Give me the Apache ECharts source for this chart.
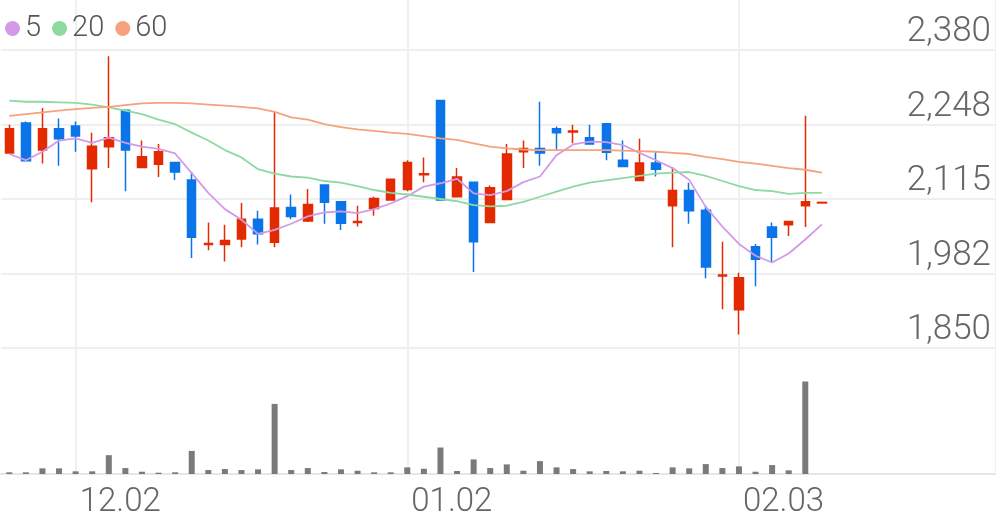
<!DOCTYPE html>
<html><head><meta charset="utf-8">
<script src="https://cdn.jsdelivr.net/npm/echarts@6/dist/echarts.min.js"></script>
<style>html,body{margin:0;padding:0;background:#fff}#c{width:996px;height:519px}</style>
</head><body><div id="c"></div>
<script>
const categories = ['11.26','11.27','11.28','11.29','12.02','12.03','12.04','12.05','12.06','12.09',
  '12.10','12.11','12.12','12.13','12.16','12.17','12.18','12.19','12.20','12.23',
  '12.24','12.26','12.27','12.30','01.02','01.03','01.06','01.07','01.08','01.09',
  '01.10','01.13','01.14','01.15','01.16','01.17','01.20','01.21','01.22','01.23',
  '01.24','01.27','01.28','01.31','02.03','02.04','02.05','02.06','02.07','02.10',
  '02.11','02.12','02.13','02.14','02.17','02.18','02.19','02.20','02.21','02.24'];
const xTickLabels = ['12.02','01.02','02.03'];
const yTickValues = [1850,1982.5,2115,2247.5,2380];
const yTickLabels = ['1,850','1,982','2,115','2,248','2,380'];
const opens  = [2197,2250,2202,2240,2245,2169,2208,2273,2171,2177, 2180,2149,2034,2034,2044,2079,2038,2100,2076,2140, 2110,2073,2098,2113,2132,2158,2290,2119,2145,2073, 2114,2199,2205,2240,2234,2224,2249,2184,2148,2179, 2103,2130,2095,1978,1918,2030,2065,2069,2103,2108];
const closes = [2240,2183,2240,2222,2227,2209,2224,2202,2190,2199, 2163,2047,2036,2041,2079,2053,2099,2084,2105,2109, 2072,2075,2116,2150,2180,2160,2113,2154,2039,2135, 2195,2205,2197,2233,2236,2213,2198,2173,2179,2168, 2130,2094,1994,1980,1975,2008,2047,2075,2110,2109];
const lows   = [2196,2182,2178,2174,2199,2109,2170,2129,2170,2154, 2149,2010,2024,2004,2029,2034,2029,2079,2074,2071, 2060,2066,2085,2112,2129,2145,2112,2118,1985,2072, 2113,2170,2174,2203,2214,2212,2184,2172,2147,2155, 2029,2071,1974,1919,1874,1960,2003,2049,2065,2108];
const highs  = [2247,2253,2277,2258,2253,2233,2369,2274,2219,2213, 2181,2163,2073,2069,2108,2094,2270,2123,2133,2141, 2111,2103,2119,2151,2184,2189,2291,2170,2146,2139, 2213,2219,2288,2244,2247,2247,2250,2219,2222,2198, 2172,2144,2103,2039,1984,2035,2073,2075,2263,2109];
const volumes = [17000,17000,57000,57000,27000,27000,190000,60000,23000,13000, 17000,233000,40000,50000,40000,47000,707000,40000,60000,20000, 47000,33000,17000,17000,67000,53000,267000,30000,147000,60000, 97000,33000,130000,67000,50000,27000,30000,27000,33000,10000, 67000,57000,100000,60000,77000,23000,90000,37000,933000,0];
const ma5  = [2195,2184,2199,2219,2223,2215,2224,2215,2208,2204, 2196,2161,2126,2097,2078,2053,2060,2071,2084,2091, 2093,2090,2097,2107,2120,2137,2143,2151,2125,2122, 2129,2145,2155,2193,2212,2217,2216,2211,2197,2184, 2170,2149,2101,2066,2035,2014,2002,2018,2043,2070];
const ma20 = [2290,2288,2288,2287,2286,2283,2278,2272,2266,2256, 2248,2233,2219,2202,2189,2168,2160,2155,2153,2147, 2144,2138,2131,2126,2123,2119,2115,2111,2104,2102, 2103,2110,2119,2128,2137,2144,2148,2152,2156,2160, 2162,2163,2156,2147,2138,2131,2129,2124,2126,2126];
const ma60 = [2263,2266,2269,2272,2275,2277,2279,2282,2285,2286, 2286,2285,2283,2281,2279,2276,2270,2260,2256,2248, 2243,2239,2236,2233,2231,2227,2223,2220,2214,2208, 2205,2203,2202,2202,2202,2202,2202,2201,2200,2199, 2197,2195,2190,2186,2181,2178,2174,2170,2167,2162];

const UP = '#e32a00', DOWN = '#0a74e8';
const FONT = 'Roboto';
const isTick = (i) => xTickLabels.indexOf(categories[i]) >= 0;
// half-band categories so that split lines (drawn on band boundaries) fall on candle centres
const halfCats = categories.flatMap(c => [c + '-a', c + '-b']);
const isHalfTick = (k) => k % 2 === 1 && isTick((k - 1) / 2);
const chart = echarts.init(document.getElementById('c'));
chart.setOption({
  animation: false,
  legend: {
    left: 0, top: 9, icon: 'circle', itemWidth: 15, itemHeight: 15, itemGap: 11,
    selectedMode: false, data: ['5','20','60'],
    textStyle: { fontSize: 29, color: '#555', fontFamily: FONT, fontWeight: 300 }
  },
  grid: [
    { left: 1, right: 0, top: 50, height: 298 },
    { left: 1, right: 0, top: 360, bottom: 44 },
    { left: 1, right: 0, top: 0, bottom: 44 }
  ],
  xAxis: [
    { type: 'category', gridIndex: 0, data: categories, boundaryGap: true,
      axisLine: { show: false }, axisTick: { show: false }, axisLabel: { show: false }, splitLine: { show: false } },
    { type: 'category', gridIndex: 1, data: categories, boundaryGap: true,
      axisLine: { show: true, lineStyle: { color: '#e6e6e6', width: 2 } }, axisTick: { show: false },
      splitLine: { show: false },
      axisLabel: { interval: isTick, align: 'left', padding: [0,0,0,4], fontSize: 33, color: '#666', margin: 12, fontFamily: FONT, fontWeight: 300 } },
    { type: 'category', gridIndex: 2, data: halfCats, boundaryGap: true,
      axisLine: { show: false }, axisTick: { show: false }, axisLabel: { show: false },
      splitLine: { show: true, interval: isHalfTick, lineStyle: { color: '#f0f0f0', width: 2 } } }
  ],
  yAxis: [
    { type: 'value', gridIndex: 0, position: 'right', min: 1850, max: 2380, interval: 132.5, scale: true,
      axisLine: { show: false }, axisTick: { show: false },
      splitLine: { show: true, lineStyle: { color: '#efefef', width: 2 } },
      axisLabel: { inside: true, margin: 5, fontSize: 35, color: '#666', fontFamily: FONT, fontWeight: 300,
        verticalAlign: 'bottom', padding: [0,0,0,0],
        formatter: v => { const k = yTickValues.findIndex(t => Math.abs(t - v) < 0.01); return k >= 0 ? yTickLabels[k] : ''; } } },
    { type: 'value', gridIndex: 1, min: 0, max: 1150000, show: false, splitLine: { show: false } },
    { type: 'value', gridIndex: 2, show: false, splitLine: { show: false } }
  ],
  series: [
    { type: 'candlestick', name: 'price', xAxisIndex: 0, yAxisIndex: 0, barWidth: 9,
      data: opens.map((o, i) => [o, closes[i], lows[i], highs[i]]),
      itemStyle: { color: UP, color0: DOWN, borderColor: UP, borderColor0: DOWN, borderWidth: 1.5 } },
    { type: 'line', name: '5', xAxisIndex: 0, yAxisIndex: 0, data: ma5, symbol: 'none',
      lineStyle: { color: '#d39ae8', width: 1.8 }, itemStyle: { color: '#d39ae8' } },
    { type: 'line', name: '20', xAxisIndex: 0, yAxisIndex: 0, data: ma20, symbol: 'none',
      lineStyle: { color: '#8ed9a2', width: 1.8 }, itemStyle: { color: '#8ed9a2' } },
    { type: 'line', name: '60', xAxisIndex: 0, yAxisIndex: 0, data: ma60, symbol: 'none',
      lineStyle: { color: '#f5a27d', width: 1.8 }, itemStyle: { color: '#f5a27d' } },
    { type: 'bar', name: 'volume', xAxisIndex: 1, yAxisIndex: 1, data: volumes, barWidth: 6,
      itemStyle: { color: '#7a7a7a' } }
  ]
});
</script></body></html>
